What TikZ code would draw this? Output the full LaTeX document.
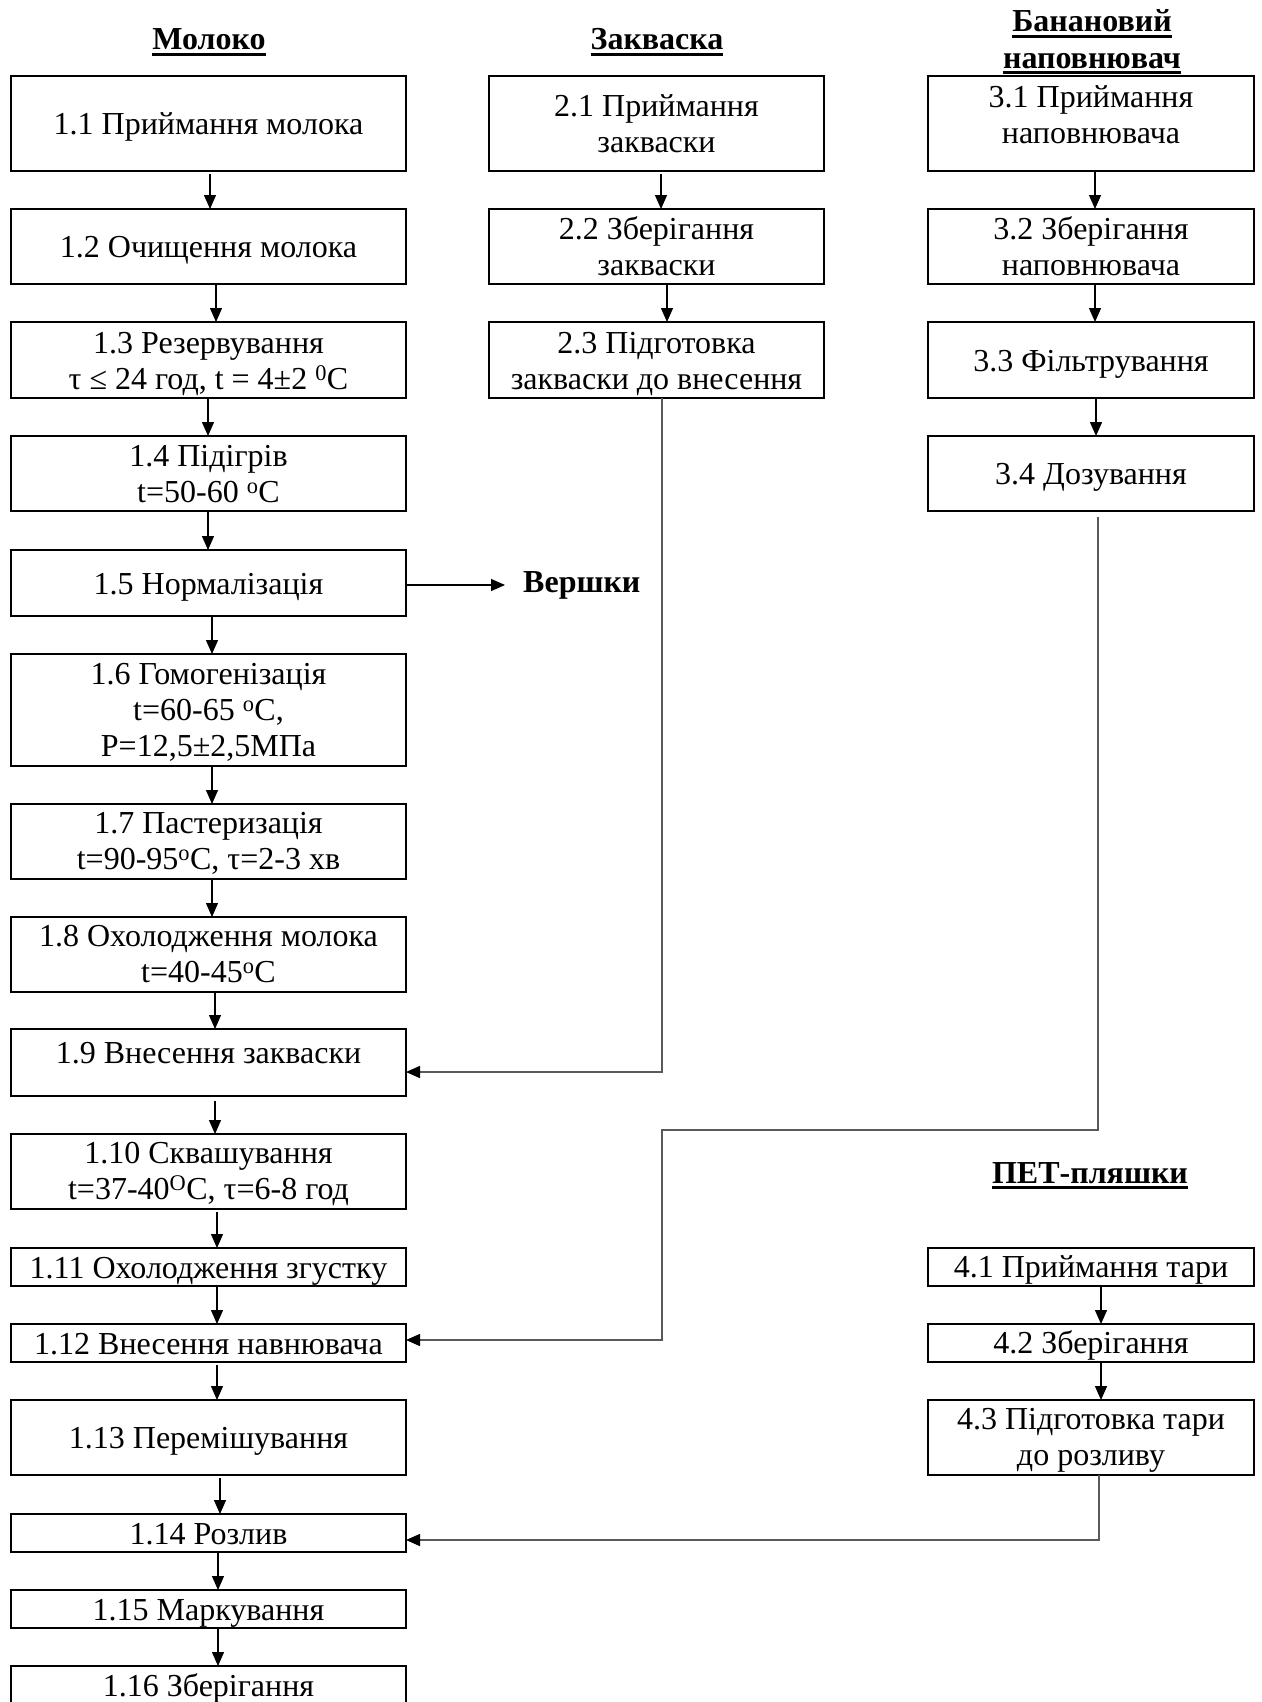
\documentclass[tikz,border=0pt]{standalone}
\usepackage{fontspec}
\setmainfont{Liberation Serif}
\usetikzlibrary{arrows.meta}
\newsavebox\ulbox
\newcommand\ulx[1]{\sbox\ulbox{#1}\rlap{\rule[-6pt]{\wd\ulbox}{2.8pt}}\usebox\ulbox}
\newcommand\bt[2][-4pt]{\raisebox{#1}[\height][\depth]{\begin{tabular}{@{}c@{}}#2\end{tabular}}}
\begin{document}
\begin{tikzpicture}[x=1pt,y=-1pt,
  bx/.style={draw, line width=2.3pt, inner sep=0pt, outer sep=0pt, anchor=north west, font=\fontsize{32}{36}\selectfont},
  lw/.style={minimum width=395pt},
  mw/.style={minimum width=335pt},
  rw/.style={minimum width=326pt},
  ttl/.style={font=\fontsize{32}{36}\selectfont\bfseries, inner sep=0pt, anchor=base},
  arr/.style={line width=1.3pt, -{Triangle[length=14pt,width=12pt]}},
  conn/.style={line width=1.5pt, draw=black!65, -{Triangle[length=14pt,width=12pt,color=black]}}
]
\fill[white] (0,0) rectangle (1261,1702);
\path[use as bounding box] (0,0) rectangle (1261,1702);

% titles
\node[ttl] (tm) at (209,50) {\ulx{Молоко}};
\node[ttl] (tz) at (657,50) {\ulx{Закваска}};
\node[ttl] (tb1) at (1092,32) {\ulx{Банановий}};
\node[ttl] (tb2) at (1092,68) {\ulx{наповнювач}};
\node[ttl] (tp) at (1090,1183) {\ulx{ПЕТ-пляшки}};

% left column
\node[bx,lw,minimum height=95pt] (b11) at (11,76) {\bt{1.1 Приймання молока}};
\node[bx,lw,minimum height=75pt] (b12) at (11,209) {\bt{1.2 Очищення молока}};
\node[bx,lw,minimum height=76pt] (b13) at (11,322) {\bt{1.3 Резервування\\τ ≤ 24 год, t = 4±2 \textsuperscript{0}C}};
\node[bx,lw,minimum height=75pt] (b14) at (11,436) {\bt{1.4 Підігрів\\t=50-60 \textsuperscript{o}C}};
\node[bx,lw,minimum height=66pt] (b15) at (11,550) {\bt{1.5 Нормалізація}};
\node[bx,lw,minimum height=112pt] (b16) at (11,654) {\bt[-3pt]{1.6 Гомогенізація\\t=60-65 \textsuperscript{o}C,\\P=12,5±2,5МПа}};
\node[bx,lw,minimum height=75pt] (b17) at (11,804) {\bt[-3pt]{1.7 Пастеризація\\t=90-95\textsuperscript{o}C, τ=2-3 хв}};
\node[bx,lw,minimum height=75pt] (b18) at (11,917) {\bt[-3pt]{1.8 Охолодження молока\\t=40-45\textsuperscript{o}C}};
\node[bx,lw,minimum height=67pt] (b19) at (11,1029) {\bt[6.5pt]{1.9 Внесення закваски}};
\node[bx,lw,minimum height=75pt] (b110) at (11,1134) {\bt[-2.5pt]{1.10 Сквашування\\t=37-40\textsuperscript{O}C, τ=6-8 год}};
\node[bx,lw,minimum height=38pt] (b111) at (11,1248) {\bt{1.11 Охолодження згустку}};
\node[bx,lw,minimum height=38pt] (b112) at (11,1324) {\bt{1.12 Внесення навнювача}};
\node[bx,lw,minimum height=75pt] (b113) at (11,1400) {\bt{1.13 Перемішування}};
\node[bx,lw,minimum height=38pt] (b114) at (11,1514) {\bt{1.14 Розлив}};
\node[bx,lw,minimum height=38pt] (b115) at (11,1590) {\bt{1.15 Маркування}};
\node[bx,lw,minimum height=42pt] (b116) at (11,1666) {\bt[-2pt]{1.16 Зберігання}};

% middle column
\node[bx,mw,minimum height=95pt] (b21) at (489,76) {\bt{2.1 Приймання\\закваски}};
\node[bx,mw,minimum height=75pt] (b22) at (489,209) {\bt{2.2 Зберігання\\закваски}};
\node[bx,mw,minimum height=76pt] (b23) at (489,322) {\bt{2.3 Підготовка\\закваски до внесення}};

% right column
\node[bx,rw,minimum height=95pt] (b31) at (928,76) {\bt[5.5pt]{3.1 Приймання\\наповнювача}};
\node[bx,rw,minimum height=75pt] (b32) at (928,209) {\bt{3.2 Зберігання\\наповнювача}};
\node[bx,rw,minimum height=76pt] (b33) at (928,322) {\bt{3.3 Фільтрування}};
\node[bx,rw,minimum height=75pt] (b34) at (928,436) {\bt{3.4 Дозування}};

\node[bx,rw,minimum height=38pt] (b41) at (928,1248) {\bt[-3pt]{4.1 Приймання тари}};
\node[bx,rw,minimum height=38pt] (b42) at (928,1324) {\bt[-3pt]{4.2 Зберігання}};
\node[bx,rw,minimum height=75pt] (b43) at (928,1400) {\bt[-3pt]{4.3 Підготовка тари\\до розливу}};

% side product
\node[font=\fontsize{32}{36}\selectfont\bfseries, inner sep=0pt, anchor=west] (vr) at (523,585) {Вершки};

% vertical arrows, left column
\draw[arr] ([xshift=1.5pt,yshift=-3pt]b11.south) -- ([xshift=1.5pt]b12.north);
\draw[arr] ([xshift=7.5pt]b12.south) -- ([xshift=7.5pt]b13.north);
\draw[arr] ([xshift=-0.5pt]b13.south) -- ([xshift=-0.5pt]b14.north);
\draw[arr] ([xshift=-0.5pt]b14.south) -- ([xshift=-0.5pt]b15.north);
\draw[arr] ([xshift=3.5pt]b15.south) -- ([xshift=3.5pt]b16.north);
\draw[arr] ([xshift=3.5pt]b16.south) -- ([xshift=3.5pt]b17.north);
\draw[arr] ([xshift=3.5pt]b17.south) -- ([xshift=3.5pt]b18.north);
\draw[arr] ([xshift=6.5pt]b18.south) -- ([xshift=6.5pt]b19.north);
\draw[arr] ([xshift=6.5pt,yshift=-5pt]b19.south) -- ([xshift=6.5pt]b110.north);
\draw[arr] ([xshift=8.5pt,yshift=-3pt]b110.south) -- ([xshift=8.5pt]b111.north);
\draw[arr] ([xshift=8.5pt]b111.south) -- ([xshift=8.5pt]b112.north);
\draw[arr] ([xshift=8.5pt,yshift=-3pt]b112.south) -- ([xshift=8.5pt]b113.north);
\draw[arr] ([xshift=11.5pt,yshift=-3pt]b113.south) -- ([xshift=11.5pt]b114.north);
\draw[arr] ([xshift=9.5pt]b114.south) -- ([xshift=9.5pt]b115.north);
\draw[arr] ([xshift=9.5pt]b115.south) -- ([xshift=9.5pt]b116.north);

% middle and right columns
\draw[arr] ([xshift=4.5pt,yshift=-3pt]b21.south) -- ([xshift=4.5pt]b22.north);
\draw[arr] ([xshift=10.5pt]b22.south) -- ([xshift=10.5pt]b23.north);
\draw[arr] ([xshift=4pt]b31.south) -- ([xshift=4pt]b32.north);
\draw[arr] ([xshift=4pt]b32.south) -- ([xshift=4pt]b33.north);
\draw[arr] ([xshift=5pt]b33.south) -- ([xshift=5pt]b34.north);
\draw[arr] ([xshift=10pt]b41.south) -- ([xshift=10pt]b42.north);
\draw[arr] ([xshift=10pt]b42.south) -- ([xshift=10pt]b43.north);

% cream
\draw[arr] (b15.east |- vr.west) -- ([xshift=-18pt]vr.west);

% starter to 1.9
\coordinate (k1) at (662,1072);
\draw[conn] ([xshift=5.5pt]b23.south) |- (b19.east |- k1);

% filler to 1.12
\coordinate (k2) at (1098,1130);
\coordinate (k3) at (662,1130);
\coordinate (k4) at (662,1340);
\draw[conn] ([xshift=7pt,yshift=-6pt]b34.south) -- (k2) -- (k3) -- (k4) -- (b112.east |- k4);

% bottles to 1.14
\coordinate (k5) at (1099,1540);
\draw[conn] ([xshift=8pt]b43.south) |- (b114.east |- k5);
\end{tikzpicture}
\end{document}
